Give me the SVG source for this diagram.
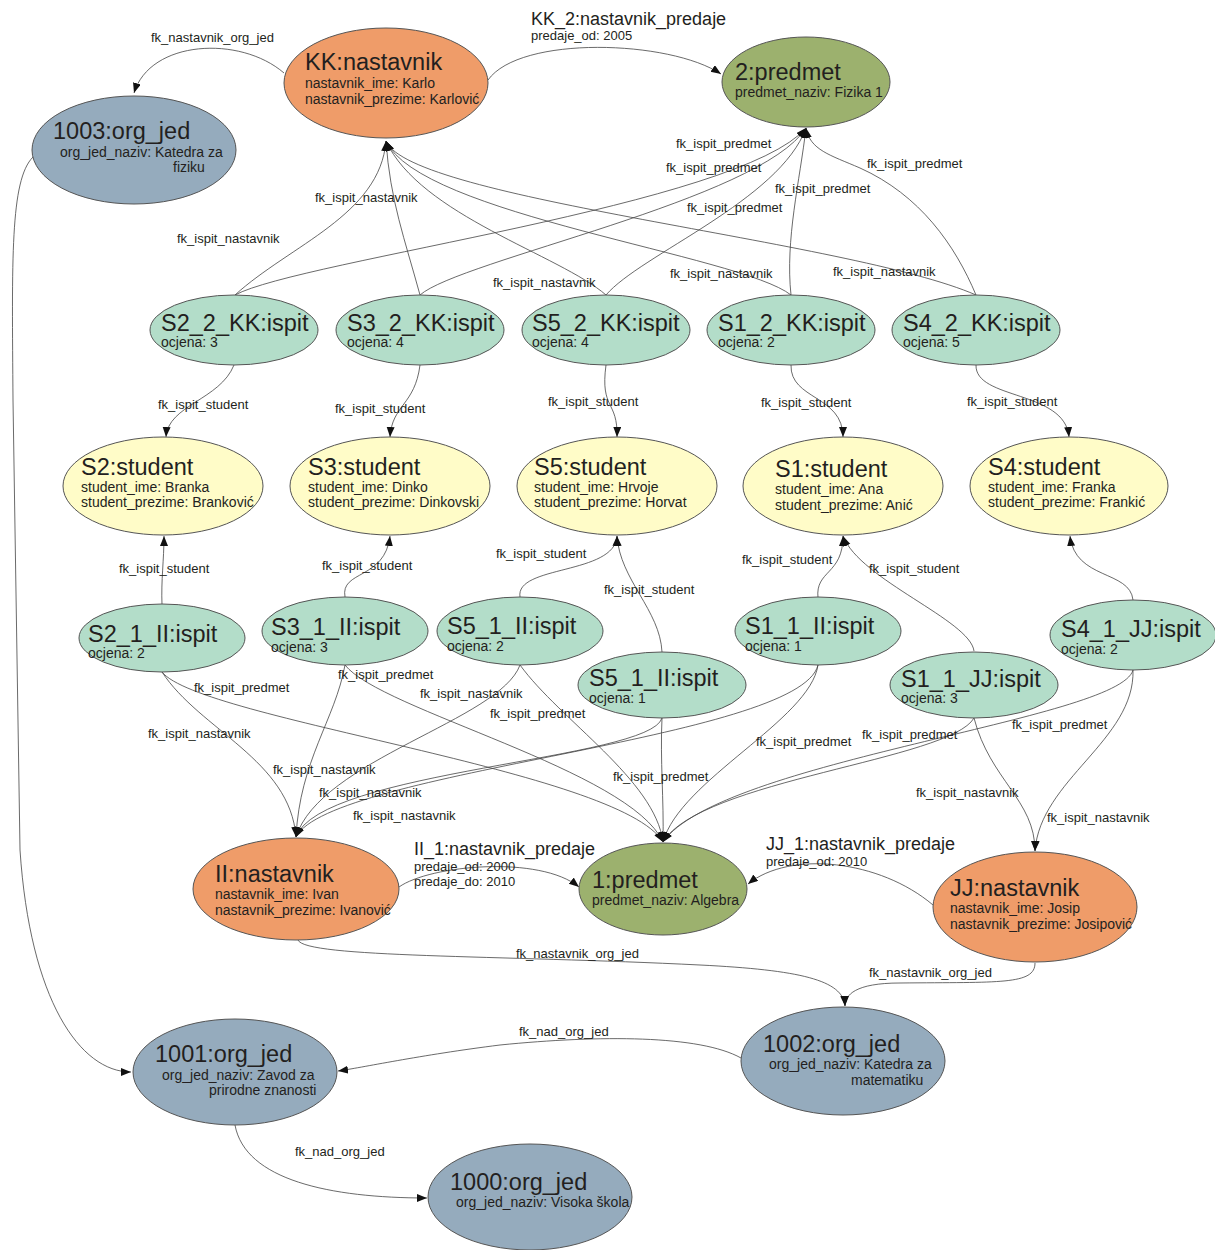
<svg xmlns="http://www.w3.org/2000/svg" width="1215" height="1250" viewBox="0 0 1215 1250">
<style>
text{font-family:"Liberation Sans",Arial,sans-serif;fill:#231F20}
.t{font-size:23.5px}
.a{font-size:14px}
.l{font-size:13px}
.r{font-size:18px}
ellipse{stroke:#555;stroke-width:1}
.n{fill:#EF9C69}.p{fill:#9CB16E}.i{fill:#B3DDC9}.s{fill:#FFFCC8}.o{fill:#95ABBD}
#edges path{fill:none;stroke:#444;stroke-width:0.8;marker-end:url(#arr)}
</style>
<defs>
<marker id="arr" markerUnits="userSpaceOnUse" markerWidth="11" markerHeight="9" refX="10" refY="4" orient="auto">
<path d="M0,0 L10,4 L0,8 z" fill="#111"/>
</marker>
</defs>
<rect width="1215" height="1250" fill="#fff"/>
<g id="edges">
<path d="M284,73 C240,35 150,40 134,93"/>
<path d="M488,80 C520,35 670,40 721,74"/>
<path d="M235,295 C290,245 380,215 386,141"/>
<path d="M420,295 C405,240 390,200 386,141"/>
<path d="M606,295 C560,255 420,215 386,141"/>
<path d="M791,295 C740,255 420,215 386,141"/>
<path d="M976,295 C850,240 410,200 386,141"/>
<path d="M235,295 C300,260 740,205 806,128"/>
<path d="M420,295 C460,260 760,200 806,128"/>
<path d="M606,295 C640,255 780,200 806,128"/>
<path d="M791,295 C785,240 800,180 806,128"/>
<path d="M976,295 C955,245 920,195 860,168 C830,155 810,150 806,128"/>
<path d="M234,365 C220,400 168,405 166,437"/>
<path d="M420,365 C415,405 392,405 390,437"/>
<path d="M606,365 C600,410 618,400 617,437"/>
<path d="M791,365 C790,400 843,395 843,437"/>
<path d="M976,365 C975,400 1065,390 1069,437"/>
<path d="M162,605 C161,580 164,560 164,536"/>
<path d="M345,597 C340,570 385,580 390,536"/>
<path d="M520,597 C515,565 615,575 617,536"/>
<path d="M662,652 C660,610 620,580 617,536"/>
<path d="M818,598 C815,570 843,575 843,536"/>
<path d="M974,651 C970,620 860,580 843,536"/>
<path d="M1133,600 C1130,570 1075,580 1070,536"/>
<path d="M162,672 C200,730 290,760 296,837"/>
<path d="M345,665 C335,720 300,760 296,837"/>
<path d="M520,665 C500,720 320,760 296,837"/>
<path d="M662,718 C650,760 320,770 296,837"/>
<path d="M818,665 C800,740 330,770 296,837"/>
<path d="M162,672 C200,720 620,770 663,842"/>
<path d="M345,665 C380,710 630,770 663,842"/>
<path d="M520,665 C560,720 655,780 663,842"/>
<path d="M662,718 C660,760 664,800 663,842"/>
<path d="M818,665 C810,720 680,780 663,842"/>
<path d="M974,718 C950,760 700,780 663,842"/>
<path d="M1133,670 C1120,720 720,760 663,842"/>
<path d="M974,718 C990,780 1035,800 1035,851"/>
<path d="M1133,670 C1135,740 1040,780 1035,851"/>
<path d="M399,887 C430,865 540,855 579,887"/>
<path d="M933,905 C880,860 790,850 748,884"/>
<path d="M298,940 C305,958 500,955 700,965 C800,970 843,980 845,1006"/>
<path d="M1035,963 C1035,985 1000,982 900,983 C855,983 845,995 845,1006"/>
<path d="M741,1058 C700,1035 600,1035 500,1045 C420,1055 360,1068 338,1071"/>
<path d="M33,157 C10,180 12,260 13,400 L20,850 C30,1000 80,1072 131,1072"/>
<path d="M235,1125 C245,1180 330,1198 427,1198"/>
</g>
<g id="edge-labels">
<text class="l" x="151" y="42">fk_nastavnik_org_jed</text>
<text class="r" x="531" y="25">KK_2:nastavnik_predaje</text>
<text class="l" x="531" y="40">predaje_od: 2005</text>
<text class="l" x="676" y="148">fk_ispit_predmet</text>
<text class="l" x="666" y="172">fk_ispit_predmet</text>
<text class="l" x="775" y="193">fk_ispit_predmet</text>
<text class="l" x="687" y="212">fk_ispit_predmet</text>
<text class="l" x="867" y="168">fk_ispit_predmet</text>
<text class="l" x="315" y="202">fk_ispit_nastavnik</text>
<text class="l" x="177" y="243">fk_ispit_nastavnik</text>
<text class="l" x="493" y="287">fk_ispit_nastavnik</text>
<text class="l" x="670" y="278">fk_ispit_nastavnik</text>
<text class="l" x="833" y="276">fk_ispit_nastavnik</text>
<text class="l" x="158" y="409">fk_ispit_student</text>
<text class="l" x="335" y="413">fk_ispit_student</text>
<text class="l" x="548" y="406">fk_ispit_student</text>
<text class="l" x="761" y="407">fk_ispit_student</text>
<text class="l" x="967" y="406">fk_ispit_student</text>
<text class="l" x="119" y="573">fk_ispit_student</text>
<text class="l" x="322" y="570">fk_ispit_student</text>
<text class="l" x="496" y="558">fk_ispit_student</text>
<text class="l" x="604" y="594">fk_ispit_student</text>
<text class="l" x="742" y="564">fk_ispit_student</text>
<text class="l" x="869" y="573">fk_ispit_student</text>
<text class="l" x="194" y="692">fk_ispit_predmet</text>
<text class="l" x="338" y="679">fk_ispit_predmet</text>
<text class="l" x="490" y="718">fk_ispit_predmet</text>
<text class="l" x="613" y="781">fk_ispit_predmet</text>
<text class="l" x="756" y="746">fk_ispit_predmet</text>
<text class="l" x="862" y="739">fk_ispit_predmet</text>
<text class="l" x="1012" y="729">fk_ispit_predmet</text>
<text class="l" x="148" y="738">fk_ispit_nastavnik</text>
<text class="l" x="273" y="774">fk_ispit_nastavnik</text>
<text class="l" x="420" y="698">fk_ispit_nastavnik</text>
<text class="l" x="319" y="797">fk_ispit_nastavnik</text>
<text class="l" x="353" y="820">fk_ispit_nastavnik</text>
<text class="l" x="916" y="797">fk_ispit_nastavnik</text>
<text class="l" x="1047" y="822">fk_ispit_nastavnik</text>
<text class="r" x="414" y="855">II_1:nastavnik_predaje</text>
<text class="l" x="414" y="871">predaje_od: 2000</text>
<text class="l" x="414" y="886">predaje_do: 2010</text>
<text class="r" x="766" y="850">JJ_1:nastavnik_predaje</text>
<text class="l" x="766" y="866">predaje_od: 2010</text>
<text class="l" x="516" y="958">fk_nastavnik_org_jed</text>
<text class="l" x="869" y="977">fk_nastavnik_org_jed</text>
<text class="l" x="519" y="1036">fk_nad_org_jed</text>
<text class="l" x="295" y="1156">fk_nad_org_jed</text>
</g>
<g id="KK_nastavnik"><ellipse class="n" cx="386" cy="83" rx="102" ry="55"/><text class="t" x="305" y="70">KK:nastavnik</text><text class="a" x="305" y="88">nastavnik_ime: Karlo</text><text class="a" x="305" y="104">nastavnik_prezime: Karlović</text></g>
<g id="predmet_2"><ellipse class="p" cx="806" cy="82" rx="84" ry="45"/><text class="t" x="735" y="80">2:predmet</text><text class="a" x="735" y="97">predmet_naziv: Fizika 1</text></g>
<g id="org_jed_1003"><ellipse class="o" cx="134" cy="150" rx="102" ry="54"/><text class="t" x="53" y="139">1003:org_jed</text><text class="a" x="60" y="157">org_jed_naziv: Katedra za</text><text class="a" x="173" y="172">fiziku</text></g>
<g id="S2_2_KK"><ellipse class="i" cx="234" cy="330" rx="84" ry="35"/><text class="t" x="161" y="331">S2_2_KK:ispit</text><text class="a" x="161" y="347">ocjena: 3</text></g>
<g id="S3_2_KK"><ellipse class="i" cx="420" cy="330" rx="84" ry="35"/><text class="t" x="347" y="331">S3_2_KK:ispit</text><text class="a" x="347" y="347">ocjena: 4</text></g>
<g id="S5_2_KK"><ellipse class="i" cx="606" cy="330" rx="84" ry="35"/><text class="t" x="532" y="331">S5_2_KK:ispit</text><text class="a" x="532" y="347">ocjena: 4</text></g>
<g id="S1_2_KK"><ellipse class="i" cx="791" cy="330" rx="84" ry="35"/><text class="t" x="718" y="331">S1_2_KK:ispit</text><text class="a" x="718" y="347">ocjena: 2</text></g>
<g id="S4_2_KK"><ellipse class="i" cx="976" cy="330" rx="84" ry="35"/><text class="t" x="903" y="331">S4_2_KK:ispit</text><text class="a" x="903" y="347">ocjena: 5</text></g>
<g id="S2_student"><ellipse class="s" cx="163" cy="486" rx="100" ry="49"/><text class="t" x="81" y="475">S2:student</text><text class="a" x="81" y="492">student_ime: Branka</text><text class="a" x="81" y="507">student_prezime: Branković</text></g>
<g id="S3_student"><ellipse class="s" cx="390" cy="486" rx="100" ry="49"/><text class="t" x="308" y="475">S3:student</text><text class="a" x="308" y="492">student_ime: Dinko</text><text class="a" x="308" y="507">student_prezime: Dinkovski</text></g>
<g id="S5_student"><ellipse class="s" cx="617" cy="486" rx="100" ry="49"/><text class="t" x="534" y="475">S5:student</text><text class="a" x="534" y="492">student_ime: Hrvoje</text><text class="a" x="534" y="507">student_prezime: Horvat</text></g>
<g id="S1_student"><ellipse class="s" cx="843" cy="486" rx="100" ry="49"/><text class="t" x="775" y="477">S1:student</text><text class="a" x="775" y="494">student_ime: Ana</text><text class="a" x="775" y="510">student_prezime: Anić</text></g>
<g id="S4_student"><ellipse class="s" cx="1069" cy="486" rx="99" ry="49"/><text class="t" x="988" y="475">S4:student</text><text class="a" x="988" y="492">student_ime: Franka</text><text class="a" x="988" y="507">student_prezime: Frankić</text></g>
<g id="S2_1_II"><ellipse class="i" cx="162" cy="638" rx="83" ry="34"/><text class="t" x="88" y="642">S2_1_II:ispit</text><text class="a" x="88" y="658">ocjena: 2</text></g>
<g id="S3_1_II"><ellipse class="i" cx="345" cy="631" rx="83" ry="34"/><text class="t" x="271" y="635">S3_1_II:ispit</text><text class="a" x="271" y="652">ocjena: 3</text></g>
<g id="S5_1_II_a"><ellipse class="i" cx="520" cy="631" rx="83" ry="34"/><text class="t" x="447" y="634">S5_1_II:ispit</text><text class="a" x="447" y="651">ocjena: 2</text></g>
<g id="S5_1_II_b"><ellipse class="i" cx="662" cy="685" rx="84" ry="33"/><text class="t" x="589" y="686">S5_1_II:ispit</text><text class="a" x="589" y="703">ocjena: 1</text></g>
<g id="S1_1_II"><ellipse class="i" cx="818" cy="631" rx="83" ry="34"/><text class="t" x="745" y="634">S1_1_II:ispit</text><text class="a" x="745" y="651">ocjena: 1</text></g>
<g id="S1_1_JJ"><ellipse class="i" cx="974" cy="685" rx="84" ry="33"/><text class="t" x="901" y="687">S1_1_JJ:ispit</text><text class="a" x="901" y="703">ocjena: 3</text></g>
<g id="S4_1_JJ"><ellipse class="i" cx="1133" cy="635" rx="83" ry="35"/><text class="t" x="1061" y="637">S4_1_JJ:ispit</text><text class="a" x="1061" y="654">ocjena: 2</text></g>
<g id="II_nastavnik"><ellipse class="n" cx="296" cy="889" rx="103" ry="51"/><text class="t" x="215" y="882">II:nastavnik</text><text class="a" x="215" y="899">nastavnik_ime: Ivan</text><text class="a" x="215" y="915">nastavnik_prezime: Ivanović</text></g>
<g id="predmet_1"><ellipse class="p" cx="663" cy="889" rx="84" ry="46"/><text class="t" x="592" y="888">1:predmet</text><text class="a" x="592" y="905">predmet_naziv: Algebra</text></g>
<g id="JJ_nastavnik"><ellipse class="n" cx="1035" cy="907" rx="102" ry="55"/><text class="t" x="950" y="896">JJ:nastavnik</text><text class="a" x="950" y="913">nastavnik_ime: Josip</text><text class="a" x="950" y="929">nastavnik_prezime: Josipović</text></g>
<g id="org_jed_1002"><ellipse class="o" cx="843" cy="1061" rx="102" ry="54"/><text class="t" x="763" y="1052">1002:org_jed</text><text class="a" x="769" y="1069">org_jed_naziv: Katedra za</text><text class="a" x="851" y="1085">matematiku</text></g>
<g id="org_jed_1001"><ellipse class="o" cx="235" cy="1072" rx="102" ry="53"/><text class="t" x="155" y="1062">1001:org_jed</text><text class="a" x="162" y="1080">org_jed_naziv: Zavod za</text><text class="a" x="209" y="1095">prirodne znanosti</text></g>
<g id="org_jed_1000"><ellipse class="o" cx="530" cy="1197" rx="102" ry="53"/><text class="t" x="450" y="1190">1000:org_jed</text><text class="a" x="456" y="1207">org_jed_naziv: Visoka škola</text></g>
</svg>
